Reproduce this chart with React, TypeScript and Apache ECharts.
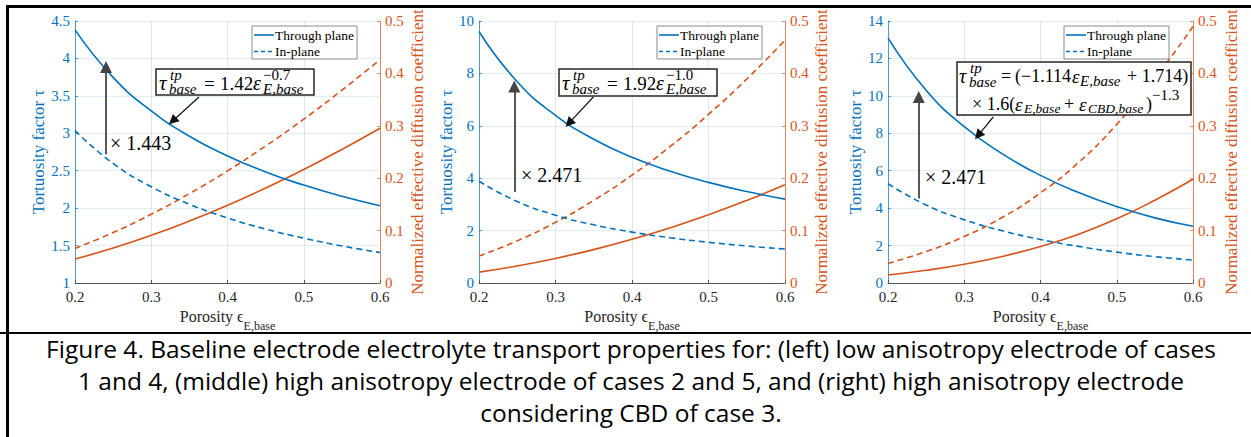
import { useEffect, useRef } from "react";
import * as echarts from "echarts";

// ---------- data ----------
const porosity = [0.2, 0.25, 0.3, 0.35, 0.4, 0.45, 0.5, 0.55, 0.6];

// Panel 1 (low anisotropy, cases 1 and 4)
const p1TauThrough = [4.381, 3.747, 3.299, 2.961, 2.697, 2.484, 2.308, 2.158, 2.031];
const p1TauIn = [3.036, 2.597, 2.286, 2.052, 1.869, 1.721, 1.599, 1.495, 1.407];
const p1DThrough = [0.0457, 0.0667, 0.0909, 0.1182, 0.1483, 0.1812, 0.2166, 0.2549, 0.2954];
const p1DIn = [0.0659, 0.0963, 0.1312, 0.1706, 0.214, 0.2615, 0.3127, 0.3679, 0.4264];

// Panel 2 (high anisotropy, cases 2 and 5)
const p2TauThrough = [9.6, 7.68, 6.4, 5.486, 4.8, 4.267, 3.84, 3.491, 3.2];
const p2TauIn = [3.885, 3.108, 2.59, 2.22, 1.943, 1.727, 1.554, 1.413, 1.295];
const p2DThrough = [0.0208, 0.0326, 0.0469, 0.0638, 0.0833, 0.1055, 0.1302, 0.1576, 0.1875];
const p2DIn = [0.0515, 0.0804, 0.1158, 0.1577, 0.2059, 0.2606, 0.3217, 0.3893, 0.4633];

// Panel 3 (high anisotropy with CBD, case 3)
const p3TauThrough = [13.1, 10.3, 8.35, 6.9, 5.75, 4.83, 4.08, 3.48, 3.03];
const p3TauIn = [5.301, 4.168, 3.379, 2.792, 2.327, 1.955, 1.651, 1.408, 1.226];
const p3DThrough = [0.0153, 0.0243, 0.0359, 0.0507, 0.0696, 0.0932, 0.1225, 0.158, 0.198];
const p3DIn = [0.0377, 0.06, 0.0888, 0.1254, 0.1719, 0.2302, 0.3028, 0.3906, 0.4894];

// left-axis ranges per panel [min, max, interval]
const leftRanges = [
  [1, 4.5, 0.5],
  [0, 10, 2],
  [0, 14, 2],
];
const rightRange = [0, 0.5, 0.1];
const xRange = [0.2, 0.6, 0.1];

// annotation arrows in data coordinates (left axis): [x1, y1, x2, y2]
const factorArrows = [
  [0.2407, 2.72, 0.2407, 3.885],
  [0.2462, 3.47, 0.2462, 7.5],
  [0.2403, 4.51, 0.2403, 9.94],
];
const formulaArrows = [
  [0.3626, 3.484, 0.328, 3.164],
  [0.3495, 7.1, 0.3176, 6.1],
  [0.338, 8.87, 0.3183, 7.89],
];
const factorLabels = ["× 1.443", "× 2.471", "× 2.471"];
const legendNames = ["Through plane", "In-plane"];

const captionLines = [
  "Figure 4. Baseline electrode electrolyte transport properties for: (left) low anisotropy electrode of cases",
  "1 and 4, (middle) high anisotropy electrode of cases 2 and 5, and (right) high anisotropy electrode",
  "considering CBD of case 3.",
];

// ---------- styling ----------
const BLUE = "#0072BD";
const ORANGE = "#D95319";
const SERIF = "Liberation Serif";
const DASH = [6, 4];

const grids = [
  { left: 75, top: 21, width: 305, height: 262 },
  { left: 479, top: 21, width: 306, height: 262 },
  { left: 888, top: 21, width: 305, height: 262 },
];
const leftNameGaps = [25, 21, 23];
const rightNameGaps = [29, 28, 30];
const legendLefts = [252, 657, 1064];

type Piece = [string, number, number, number, boolean];

function formulaGroup(x0: number, y0: number, w: number, h: number, list: Piece[]) {
  const els: any[] = [
    {
      type: "rect",
      shape: { x: x0, y: y0, width: w, height: h },
      style: { fill: "#fff", stroke: "#262626", lineWidth: 1.5 },
      z: 100,
    },
  ];
  list.forEach(([t, dx, dy, size, it]) => {
    els.push({
      type: "text",
      x: x0 + dx,
      y: y0 + dy,
      z: 101,
      style: {
        text: t,
        fontSize: size,
        fontFamily: SERIF,
        fontStyle: it ? "italic" : "normal",
        fill: "#000",
        align: "left",
        verticalAlign: "middle",
      },
    });
  });
  return els;
}

function simpleFormula(coef: string, exp: string): Piece[] {
  return [
    ["τ", 3, 14, 21, true],
    ["tp", 14, 6, 15, true],
    ["base", 13, 19.5, 15, true],
    ["=", 48, 14, 19, false],
    [coef, 64, 14, 19, false],
    ["ε", 97, 14, 20, true],
    [exp, 107, 6, 15, false],
    ["E,base", 107, 19.5, 15, true],
  ];
}

const cbdFormula: Piece[] = [
  ["τ", 2, 14, 20, true],
  ["tp", 13, 6, 15, true],
  ["base", 12, 20, 15, true],
  ["=", 44, 14, 18, false],
  ["(−1.114", 58, 14, 18, false],
  ["ε", 115, 14, 19, true],
  ["E,base", 123, 19, 15, true],
  ["+ 1.714)", 170, 14, 18, false],
  ["× 1.6(", 15, 42, 18, false],
  ["ε", 58, 42, 19, true],
  ["E,base", 67, 46, 13.5, true],
  ["+", 107, 42, 18, false],
  ["ε", 122, 42, 19, true],
  ["CBD,base", 131, 46, 13.5, true],
  [")", 189, 42, 18, false],
  ["−1.3", 195, 33, 15, false],
];

function legendGroup(x0: number, y0: number) {
  const els: any[] = [
    {
      type: "rect",
      shape: { x: x0, y: y0, width: 105, height: 33 },
      style: { fill: "#fff", stroke: "#8a8a8a", lineWidth: 1 },
      z: 100,
    },
  ];
  legendNames.forEach((name, k) => {
    const cy = y0 + 9 + k * 16.5;
    els.push({
      type: "line",
      shape: { x1: x0 + 2, y1: cy, x2: x0 + 22, y2: cy },
      style: { stroke: BLUE, lineWidth: 1.6, lineDash: k === 0 ? null : [4, 3] },
      z: 101,
    });
    els.push({
      type: "text",
      x: x0 + 23,
      y: cy,
      z: 101,
      style: {
        text: name,
        fontFamily: SERIF,
        fontSize: 13.5,
        fill: "#000",
        align: "left",
        verticalAlign: "middle",
      },
    });
  });
  return els;
}

export default function App() {
  const ref = useRef<HTMLDivElement>(null);

  useEffect(() => {
    if (!ref.current) return;
    const chart = echarts.init(ref.current, undefined, { renderer: "svg" });

    const tauThrough = [p1TauThrough, p2TauThrough, p3TauThrough];
    const tauIn = [p1TauIn, p2TauIn, p3TauIn];
    const dThrough = [p1DThrough, p2DThrough, p3DThrough];
    const dIn = [p1DIn, p2DIn, p3DIn];

    const xAxis: any[] = [];
    const yAxis: any[] = [];
    const series: any[] = [];

    const pair = (ys: number[]) => porosity.map((x, i) => [x, ys[i]]);

    for (let i = 0; i < 3; i++) {
      xAxis.push({
        type: "value",
        gridIndex: i,
        min: xRange[0],
        max: xRange[1],
        interval: xRange[2],
        axisLine: { show: true, lineStyle: { color: "#555", width: 1 } },
        axisTick: { show: true, inside: true, length: 3, lineStyle: { color: "#555" } },
        axisLabel: {
          color: "#262626",
          fontFamily: SERIF,
          fontSize: 15,
          margin: 6,
          formatter: (v: number) => v.toFixed(1),
        },
        splitLine: { show: true, lineStyle: { color: "rgba(38,38,38,0.12)" } },
        name: "{a|Porosity ϵ}{b|E,base}",
        nameLocation: "middle",
        nameGap: 24,
        nameTextStyle: {
          fontFamily: SERIF,
          rich: {
            a: { fontFamily: SERIF, fontSize: 16, color: "#262626", verticalAlign: "top", lineHeight: 18 },
            b: {
              fontFamily: SERIF,
              fontSize: 12,
              color: "#262626",
              verticalAlign: "top",
              padding: [11, 0, 0, 0],
              lineHeight: 14,
            },
          },
        },
      });

      const lr = leftRanges[i];
      yAxis.push({
        type: "value",
        gridIndex: i,
        position: "left",
        min: lr[0],
        max: lr[1],
        interval: lr[2],
        axisLine: { show: true, lineStyle: { color: "rgba(0,114,189,0.65)", width: 1 } },
        axisTick: { show: true, inside: true, length: 3, lineStyle: { color: "rgba(0,114,189,0.65)" } },
        axisLabel: { color: BLUE, fontFamily: SERIF, fontSize: 15, margin: 5 },
        splitLine: { show: true, lineStyle: { color: "rgba(0,114,189,0.12)" } },
        name: "Tortuosity factor τ",
        nameLocation: "middle",
        nameRotate: 90,
        nameGap: leftNameGaps[i],
        nameTextStyle: { color: BLUE, fontFamily: SERIF, fontSize: 17 },
      });
      yAxis.push({
        type: "value",
        gridIndex: i,
        position: "right",
        min: rightRange[0],
        max: rightRange[1],
        interval: rightRange[2],
        axisLine: { show: true, lineStyle: { color: "rgba(217,83,25,0.65)", width: 1 } },
        axisTick: { show: true, inside: true, length: 3, lineStyle: { color: "rgba(217,83,25,0.65)" } },
        axisLabel: { color: ORANGE, fontFamily: SERIF, fontSize: 15, margin: 5 },
        splitLine: { show: false },
        name: "Normalized effective diffusion coefficient",
        nameLocation: "middle",
        nameRotate: 90,
        nameGap: rightNameGaps[i],
        nameTextStyle: { color: ORANGE, fontFamily: SERIF, fontSize: 17 },
      });

      const fa = factorArrows[i];
      const sa = formulaArrows[i];
      series.push({
        type: "line",
        name: legendNames[0],
        xAxisIndex: i,
        yAxisIndex: 2 * i,
        data: pair(tauThrough[i]),
        smooth: true,
        symbol: "none",
        showSymbol: false,
        lineStyle: { color: BLUE, width: 1.6, type: "solid" },
        itemStyle: { color: BLUE },
        z: 3,
        markLine: {
          silent: true,
          symbol: ["none", "triangle"],
          label: { show: false },
          emphasis: { disabled: true },
          data: [
            [
              { coord: [fa[0], fa[1]], lineStyle: { color: "#444", width: 1.8, type: "solid" }, symbolSize: 12 },
              { coord: [fa[2], fa[3]], symbolSize: 12 },
            ],
            [
              { coord: [sa[0], sa[1]], lineStyle: { color: "#111", width: 1.2, type: "solid" }, symbolSize: 10 },
              { coord: [sa[2], sa[3]], symbolSize: 10 },
            ],
          ],
          itemStyle: { color: "#000" },
        },
      });
      series.push({
        type: "line",
        name: legendNames[1],
        xAxisIndex: i,
        yAxisIndex: 2 * i,
        data: pair(tauIn[i]),
        smooth: true,
        symbol: "none",
        showSymbol: false,
        lineStyle: { color: BLUE, width: 1.6, type: DASH },
        itemStyle: { color: BLUE },
        z: 3,
      });
      series.push({
        type: "line",
        name: "Diffusion through plane " + (i + 1),
        xAxisIndex: i,
        yAxisIndex: 2 * i + 1,
        data: pair(dThrough[i]),
        smooth: true,
        symbol: "none",
        showSymbol: false,
        lineStyle: { color: ORANGE, width: 1.6, type: "solid" },
        itemStyle: { color: ORANGE },
        z: 2,
      });
      series.push({
        type: "line",
        name: "Diffusion in-plane " + (i + 1),
        xAxisIndex: i,
        yAxisIndex: 2 * i + 1,
        data: pair(dIn[i]),
        smooth: true,
        symbol: "none",
        showSymbol: false,
        lineStyle: { color: ORANGE, width: 1.6, type: DASH },
        itemStyle: { color: ORANGE },
        z: 2,
      });
    }

    const graphic: any[] = [];
    captionLines.forEach((t, k) => {
      graphic.push({
        type: "text",
        x: 631,
        y: 348 + k * 32,
        z: 100,
        style: {
          text: t,
          fontFamily: "Open Sans",
          fontSize: 24.5,
          fill: "#000",
          align: "center",
          verticalAlign: "middle",
        },
      });
    });
    legendLefts.forEach((lx) => graphic.push(...legendGroup(lx, 26)));
    graphic.push(...formulaGroup(156, 69, 158, 26, simpleFormula("1.42", "−0.7")));
    graphic.push(...formulaGroup(559, 69, 158, 27, simpleFormula("1.92", "−1.0")));
    graphic.push(...formulaGroup(957, 62, 234, 53, cbdFormula));
    const factorPos = [
      [110, 143],
      [521, 175],
      [925, 177],
    ];
    factorLabels.forEach((t, k) => {
      graphic.push({
        type: "text",
        x: factorPos[k][0],
        y: factorPos[k][1],
        z: 101,
        style: {
          text: t,
          fontFamily: SERIF,
          fontSize: 20,
          fill: "#000",
          align: "left",
          verticalAlign: "middle",
        },
      });
    });

    chart.setOption({
      animation: false,
      backgroundColor: "#fff",
      textStyle: { fontFamily: SERIF },
      grid: grids,
      xAxis,
      yAxis,
      series,
      graphic,
    });

    return () => chart.dispose();
  }, []);

  const bar = (s: any) => (
    <div style={{ position: "absolute", background: "#000", zIndex: 10, pointerEvents: "none", ...s }} />
  );

  return (
    <div style={{ position: "absolute", left: 0, top: 0, width: 1251, height: 437, background: "#fff" }}>
      <div ref={ref} style={{ position: "absolute", left: 0, top: 0, width: 1251, height: 437 }} />
      {bar({ left: 7, top: 5, width: 1244, height: 3 })}
      {bar({ left: 6, top: 5, width: 3, height: 432 })}
      {bar({ left: 0, top: 332, width: 1251, height: 2 })}
    </div>
  );
}
